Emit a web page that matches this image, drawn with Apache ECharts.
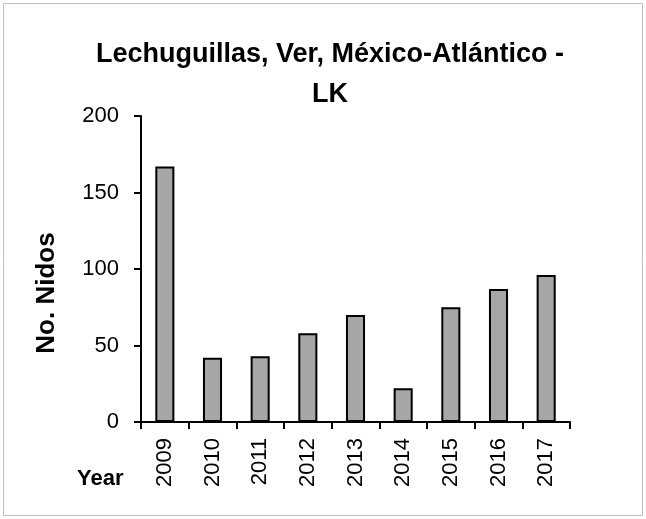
<!DOCTYPE html>
<html><head><meta charset="utf-8">
<script src="https://cdn.jsdelivr.net/npm/echarts@6/dist/echarts.min.js"></script>
<style>html,body{margin:0;padding:0;background:#fff}#c{width:646px;height:519px}</style>
</head><body><div id="c"></div>
<script>
const years = ['2009','2010','2011','2012','2013','2014','2015','2016','2017'];
const nests = [167, 42, 43, 58, 70, 22, 75, 87, 96];
const titleText = 'Lechuguillas, Ver, México-Atlántico -\nLK';
const yName = 'No. Nidos';
const xName = 'Year';
const FONT = '"Liberation Sans", Arial, sans-serif';
const chart = echarts.init(document.getElementById('c'));
chart.setOption({
  animation: false,
  backgroundColor: '#fff',
  title: {
    text: titleText, left: 325, top: 30, textAlign: 'center',
    textStyle: {fontFamily: FONT, fontWeight: 'bold', fontSize: 27, lineHeight: 40, color: '#000'}
  },
  graphic: [
    {type: 'rect', shape: {x: 3.5, y: 3.5, width: 639, height: 512}, style: {fill: 'none', stroke: '#bfbfbf', lineWidth: 1}},
    {type: 'text', x: 77, y: 479, style: {text: xName, fontFamily: FONT, fontWeight: 'bold', fontSize: 22, fill: '#000', textVerticalAlign: 'middle'}},
    {type: 'text', x: 47, y: 293, rotation: Math.PI / 2, style: {text: yName, fontFamily: FONT, fontWeight: 'bold', fontSize: 26, fill: '#000', textAlign: 'center', textVerticalAlign: 'middle'}}
  ],
  grid: {left: 141, right: 76, top: 116, bottom: 97, containLabel: false},
  xAxis: {
    type: 'category', data: years,
    axisLine: {lineStyle: {color: '#000', width: 2}},
    axisTick: {show: true, length: 7, lineStyle: {color: '#000', width: 2}},
    axisLabel: {rotate: 90, margin: 16, fontFamily: FONT, fontSize: 22, color: '#000'}
  },
  yAxis: {
    type: 'value', min: 0, max: 200, interval: 50,
    axisLine: {show: true, lineStyle: {color: '#000', width: 2}},
    axisTick: {show: true, length: 7, lineStyle: {color: '#000', width: 2}},
    splitLine: {show: false},
    axisLabel: {margin: 22, fontFamily: FONT, fontSize: 22, color: '#000'}
  },
  series: [{
    type: 'bar', data: nests, barWidth: '40%',
    itemStyle: {color: '#a6a6a6', borderColor: '#000', borderWidth: 2}
  }]
});
</script></body></html>
